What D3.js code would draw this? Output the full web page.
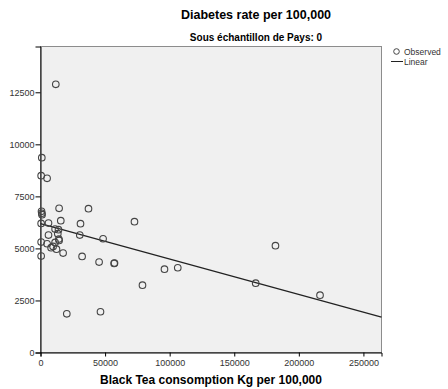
<!DOCTYPE html>
<html>
<head>
<meta charset="utf-8">
<script src="https://cdn.jsdelivr.net/npm/d3@7"></script>
<style>
  body { margin: 0; background: #fff; }
  svg { font-family: "Liberation Sans", Arial, sans-serif; }
</style>
</head>
<body>
<svg id="chart" width="448" height="389"></svg>
<script>
// black tea consumption (kg per 100,000) and diabetes rate per 100,000
const teaKg = [
  11840, 1000, 500, 5100, 800, 1000, 1200, 14400, 37150, 72750,
  500, 6190, 15700, 30960, 11300, 13930, 6190, 13390, 30400, 14200,
  14400, 48450, 500, 5100, 11300, 8200, 9750, 12380, 17500, 500,
  32200, 45360, 57000, 57300, 95980, 106270, 78950, 20360, 46440, 181900,
  166600, 216400
];
const diabetesRate = [
  12885, 9361, 8496, 8366, 6780, 6690, 6620, 6924, 6909, 6284,
  6202, 6217, 6332, 6188, 5928, 5899, 5640, 5706, 5640, 5450,
  5385, 5465, 5303, 5225, 5290, 5034, 5097, 4966, 4775, 4631,
  4616, 4342, 4280, 4300, 4005, 4072, 3236, 1860, 1957, 5130,
  3332, 2755
];
const xTicks = [0, 50000, 100000, 150000, 200000, 250000];
const yTicks = [0, 2500, 5000, 7500, 10000, 12500];
// fitted linear line endpoints (x values, predicted y)
const fitX = [0, 264000];
const fitY = [6188, 1697];

const svg = d3.select("#chart");
const plotL = 40.5, plotR = 381.5, plotT = 46.5, plotB = 352.5;

const x = d3.scaleLinear().domain([0, 264000]).range([plotL, plotR]);
const y = d3.scaleLinear().domain([0, 14700]).range([plotB, plotT]);

svg.append("rect")
  .attr("x", plotL).attr("y", plotT)
  .attr("width", plotR - plotL).attr("height", plotB - plotT)
  .attr("fill", "#f0f0f0")
  .attr("stroke", "#8c8c8c");

svg.append("text")
  .attr("x", 256).attr("y", 19)
  .attr("text-anchor", "middle")
  .attr("font-size", 12.5).attr("font-weight", "bold")
  .text("Diabetes rate per 100,000");

svg.append("text")
  .attr("x", 256).attr("y", 41)
  .attr("text-anchor", "middle")
  .attr("font-size", 10).attr("font-weight", "bold")
  .text("Sous échantillon de Pays: 0");

const gx = svg.append("g")
  .attr("transform", `translate(0,${plotB})`)
  .call(d3.axisBottom(x).tickValues(xTicks).tickFormat(d3.format("d")).tickSizeOuter(0).tickSize(4));
const gy = svg.append("g")
  .attr("transform", `translate(${plotL},0)`)
  .call(d3.axisLeft(y).tickValues(yTicks).tickFormat(d3.format("d")).tickSizeOuter(0).tickSize(5));

[gx, gy].forEach(g => {
  g.select(".domain").attr("stroke", "#000");
  g.selectAll(".tick line").attr("stroke", "#000");
  g.selectAll("text")
    .attr("font-family", "Liberation Sans, Arial, sans-serif")
    .attr("font-size", 9).attr("fill", "#333");
});
gy.selectAll("text").attr("x", -6);
gx.selectAll("text").attr("y", 7);

svg.append("text")
  .attr("x", 211).attr("y", 384)
  .attr("text-anchor", "middle")
  .attr("font-size", 12).attr("font-weight", "bold")
  .text("Black Tea consomption Kg per 100,000");

svg.append("line")
  .attr("x1", x(fitX[0])).attr("y1", y(fitY[0]))
  .attr("x2", x(fitX[1])).attr("y2", y(fitY[1]))
  .attr("stroke", "#222").attr("stroke-width", 1.2);

svg.append("g")
  .selectAll("circle")
  .data(teaKg.map((d, i) => [d, diabetesRate[i]]))
  .join("circle")
  .attr("cx", d => x(d[0]))
  .attr("cy", d => y(d[1]))
  .attr("r", 3.3)
  .attr("fill", "none")
  .attr("stroke", "#444")
  .attr("stroke-width", 1.1);

// legend
const lg = svg.append("g");
lg.append("circle").attr("cx", 396.5).attr("cy", 51.5).attr("r", 2.8)
  .attr("fill", "none").attr("stroke", "#444");
lg.append("text").attr("x", 404).attr("y", 54.5)
  .attr("font-size", 8.5).attr("fill", "#333").text("Observed");
lg.append("line").attr("x1", 391).attr("x2", 403).attr("y1", 61.5).attr("y2", 61.5)
  .attr("stroke", "#222");
lg.append("text").attr("x", 404).attr("y", 64.5)
  .attr("font-size", 8.5).attr("fill", "#333").text("Linear");
</script>
</body>
</html>
